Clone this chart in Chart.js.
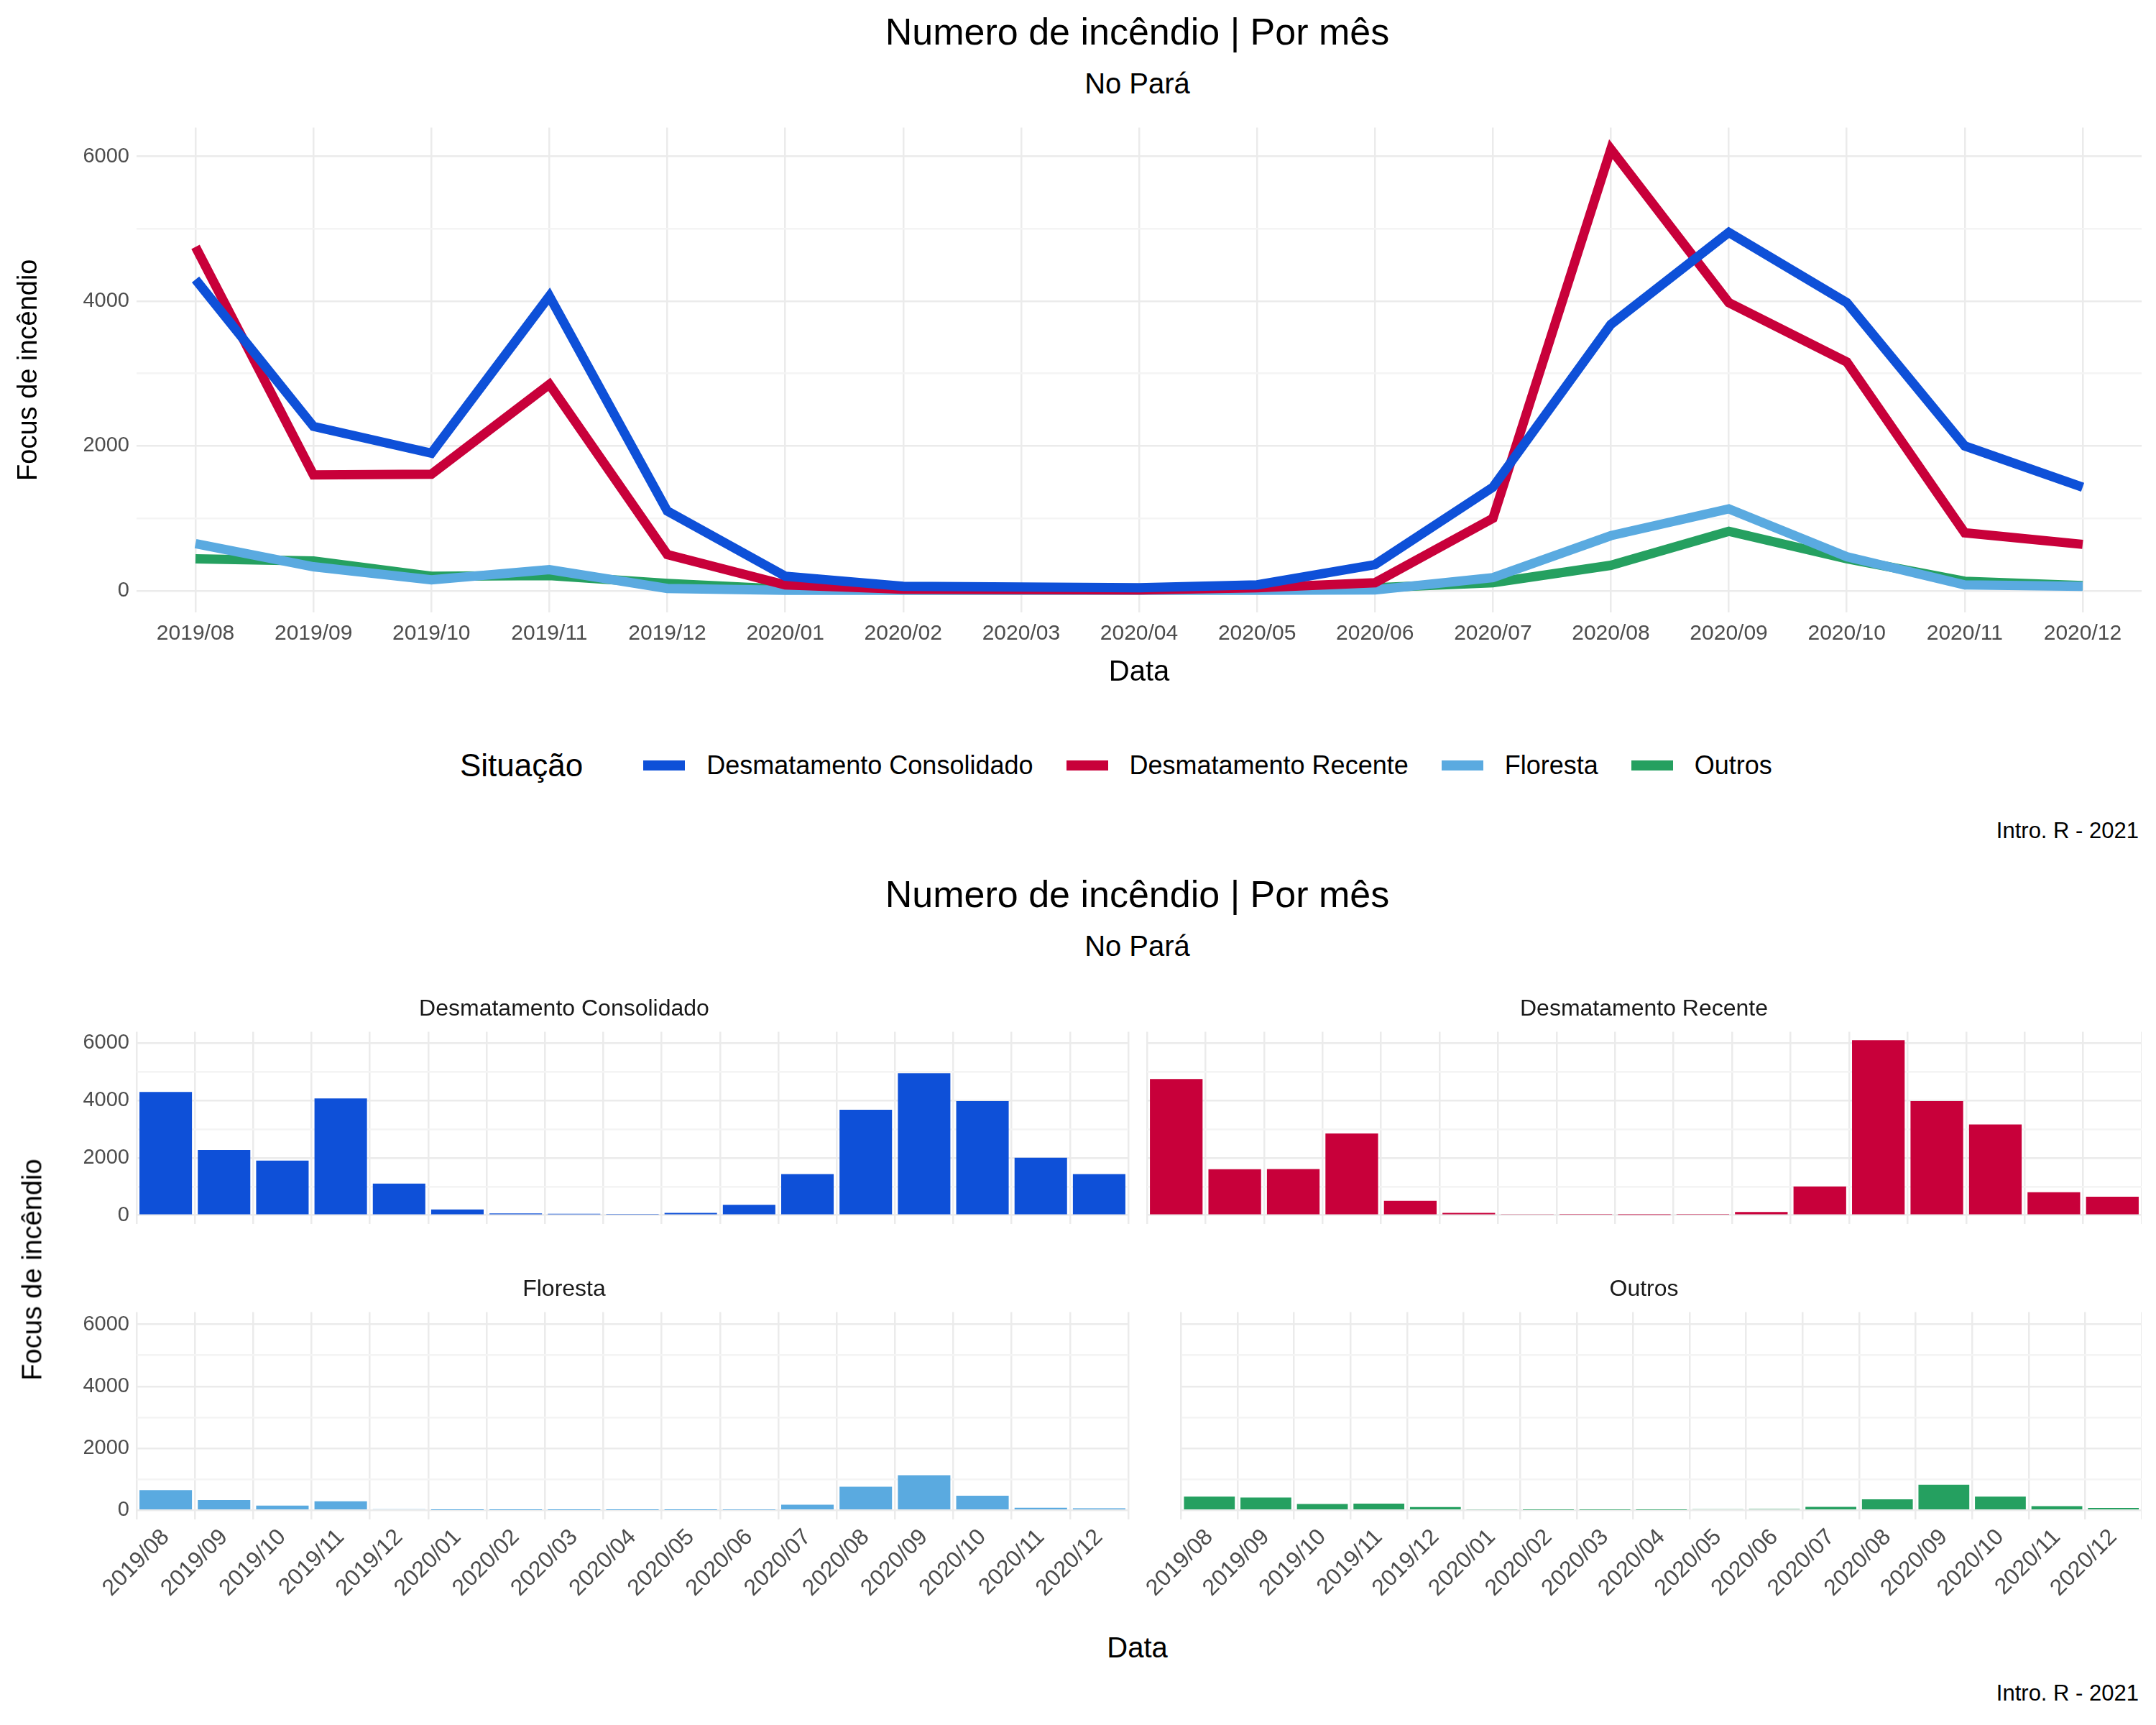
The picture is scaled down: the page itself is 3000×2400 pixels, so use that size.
<!DOCTYPE html>
<html><head><meta charset="utf-8">
<script src="https://cdn.jsdelivr.net/npm/chart.js@4"></script>
<style>
body{margin:0;background:#fff;font-family:"Liberation Sans",Arial,sans-serif;color:#000}
.t{position:absolute;left:165px;width:2835px;text-align:center}
canvas{position:absolute}
.lg{position:absolute;top:1040px;left:640px;display:flex;align-items:center}
.sw{display:inline-block;width:58px;height:14px;margin:0 30px 0 46px}
</style></head><body>
<div style="position:relative;width:3000px;height:2400px">
<div class="t" style="top:14px;font-size:52px">Numero de incêndio | Por mês</div>
<div class="t" style="top:94px;font-size:40px">No Pará</div>
<canvas id="line" style="left:0;top:150px;width:3000px;height:810px"></canvas>
<div class="lg"><span style="font-size:44px">Situação</span>
<span class="sw" style="background:#0E50D8;margin-left:84px"></span><span style="font-size:36px">Desmatamento Consolidado</span>
<span class="sw" style="background:#C8003A"></span><span style="font-size:36px">Desmatamento Recente</span>
<span class="sw" style="background:#5AAAE0"></span><span style="font-size:36px">Floresta</span>
<span class="sw" style="background:#25A060"></span><span style="font-size:36px">Outros</span></div>
<div style="position:absolute;top:1138px;right:24px;font-size:31px">Intro. R - 2021</div>
<div class="t" style="top:1214px;font-size:52px">Numero de incêndio | Por mês</div>
<div class="t" style="top:1294px;font-size:40px">No Pará</div>
<canvas id="b1" style="left:0;top:1385px;width:1575px;height:345px"></canvas>
<canvas id="b2" style="left:1595px;top:1385px;width:1385px;height:345px"></canvas>
<canvas id="b3" style="left:0;top:1775px;width:1575px;height:460px"></canvas>
<canvas id="b4" style="left:1595px;top:1775px;width:1385px;height:460px"></canvas>
<div style="position:absolute;left:-120px;top:1745px;width:330px;text-align:center;transform:rotate(-90deg);font-size:38px">Focus de incêndio</div>
<div class="t" style="top:2270px;font-size:40px">Data</div>
<div style="position:absolute;top:2338px;right:24px;font-size:31px">Intro. R - 2021</div>
</div>
<script>
const months=["2019/08","2019/09","2019/10","2019/11","2019/12","2020/01","2020/02","2020/03","2020/04","2020/05","2020/06","2020/07","2020/08","2020/09","2020/10","2020/11","2020/12"];
const consolidado=[4300,2270,1900,4070,1100,200,60,50,40,80,360,1430,3680,4950,3980,2000,1430];
const recente=[4750,1600,1610,2850,500,80,20,15,10,40,110,1000,6100,3980,3160,800,640];
const floresta=[650,330,150,290,30,5,5,5,5,5,10,180,760,1130,470,80,60];
const outros=[440,410,200,210,100,20,10,10,10,30,40,110,350,820,440,130,70];
const yTicks=[0,2000,4000,6000];
const colors={c:"#0E50D8",r:"#C8003A",f:"#5AAAE0",o:"#25A060"};
const FONT="'Liberation Sans', Arial, sans-serif";
Chart.defaults.font.family=FONT;Chart.defaults.color="#4d4d4d";
function yScale(show,title,w){return{min:-300,max:6400,
 afterBuildTicks:a=>{a.ticks=[];for(let v=0;v<=6000;v+=1000)a.ticks.push({value:v});},
 afterFit:a=>{a.width=w;},
 grid:{color:c=>c.tick&&c.tick.value%2000===0?"#ebebeb":"#f4f4f4",lineWidth:2.5,drawTicks:false},border:{display:false},
 ticks:{display:true,padding:10,font:{size:29},color:show?"#4d4d4d":"rgba(0,0,0,0)",callback:v=>yTicks.includes(v)?v:""},
 title:{display:!!title,text:title,font:{size:38},color:"#000",padding:{top:0,bottom:8}}};}
new Chart(document.getElementById("line"),{type:"line",
 data:{labels:months,datasets:[["c",consolidado],["r",recente],["f",floresta],["o",outros]].map(([k,d])=>({data:d,borderColor:colors[k],borderWidth:13,pointRadius:0,tension:0,borderJoinStyle:"miter"}))},
 options:{responsive:false,animation:false,plugins:{legend:{display:false}},layout:{padding:{top:10,right:20,left:18}},
 scales:{x:{offset:true,grid:{color:"#ebebeb",lineWidth:2.5,drawTicks:false},border:{display:false},ticks:{padding:12,font:{size:30},color:"#4d4d4d",maxRotation:0,autoSkip:false},title:{display:true,text:"Data",font:{size:40},color:"#000",padding:0}},
 y:yScale(true,"Focus de incêndio",172)}}});
function bars(id,data,col,title,left,bottom){
 new Chart(document.getElementById(id),{type:"bar",
 data:{labels:months,datasets:[{data,base:0,backgroundColor:col,categoryPercentage:1,barPercentage:0.9}]},
 options:{responsive:false,animation:false,layout:{padding:{right:left?5:0}},
 plugins:{legend:{display:false},title:{display:true,text:title,font:{size:32,weight:"normal"},color:"#1a1a1a",padding:{top:0,bottom:12}}},
 scales:{x:{offset:true,grid:{color:"#ebebeb",lineWidth:2.5,drawTicks:false},border:{display:false},
  ticks:{display:bottom,padding:6,font:{size:32},color:"#4d4d4d",minRotation:45,maxRotation:45,autoSkip:false}},
  y:yScale(left,"",left?190:1)}}});}
bars("b1",consolidado,colors.c,"Desmatamento Consolidado",true,false);
bars("b2",recente,colors.r,"Desmatamento Recente",false,false);
bars("b3",floresta,colors.f,"Floresta",true,true);
bars("b4",outros,colors.o,"Outros",false,true);
</script></body></html>
